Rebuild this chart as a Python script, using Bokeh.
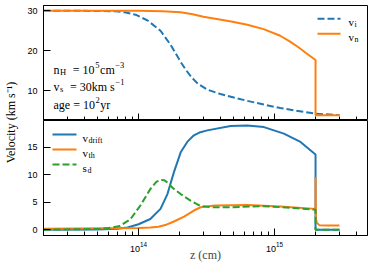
import math
from bokeh.plotting import figure
from bokeh.models import Range1d, FixedTicker, Label, Arrow, CustomJSTickFormatter
from bokeh.layouts import row, column
from bokeh.embed import file_html
from bokeh.resources import INLINE

# ---------------- data ----------------
# top panel
vi_z = [2.0e13, 5.2e13, 6.8e13, 7.9e13, 9.5e13, 1.16e14, 1.45e14, 1.72e14, 2.04e14,
        2.22e14, 2.45e14, 2.72e14, 3.2e14, 4.0e14, 6.3e14, 1.1e15, 2.0e15, 3.0e15]
vi = [30.0, 29.95, 29.85, 29.6, 29.0, 27.6, 25.0, 21.5, 17.2,
      15.3, 13.4, 11.8, 10.3, 9.2, 7.5, 5.7, 4.3, 3.95]

vn_z = [2.0e13, 1.0e14, 1.5e14, 2.04e14, 2.5e14, 3.0e14, 4.8e14, 6.3e14, 8.3e14,
        1.1e15, 1.3e15, 1.48e15, 1.74e15, 2.0e15, 2.0e15, 3.0e15]
vn = [30.0, 29.97, 29.85, 29.6, 29.1, 28.5, 27.3, 26.5, 25.4,
      23.75, 22.3, 21.0, 19.2, 17.7, 3.9, 3.9]

# bottom panel
vdrift_z = [2.0e13, 5.0e13, 7.0e13, 8.3e13, 1.0e14, 1.22e14, 1.45e14, 1.63e14, 1.82e14,
            2.04e14, 2.28e14, 2.55e14, 2.8e14, 3.2e14, 4.75e14, 6.3e14, 8.35e14, 1.17e15,
            1.55e15, 2.0e15, 2.0e15, 3.0e15]
vdrift = [0.02, 0.05, 0.2, 0.4, 1.0, 1.95, 3.8, 6.5, 10.5,
          14.1, 16.0, 17.2, 17.7, 18.1, 18.9, 19.0, 18.7, 17.5,
          16.0, 13.7, 0.0, 0.0]

vth_z = [2.0e13, 1.0e14, 1.22e14, 1.4e14, 1.57e14, 1.82e14, 2.16e14, 2.55e14, 2.86e14,
         3.62e14, 6.3e14, 1.1e15, 2.0e15, 2.0e15, 2.01e15, 2.04e15, 2.14e15, 2.4e15, 3.0e15]
vth = [0.2, 0.3, 0.4, 0.55, 0.85, 1.5, 2.4, 3.5, 4.1,
       4.4, 4.5, 4.25, 3.8, 9.6, 2.2, 1.3, 0.8, 0.75, 0.75]

sd_z = [2.0e13, 5.0e13, 6.0e13, 7.3e13, 8.7e13, 1.03e14, 1.22e14, 1.35e14, 1.45e14,
        1.55e14, 1.63e14, 1.8e14, 2.04e14, 2.41e14, 2.86e14, 3.4e14, 4.75e14, 8.35e14,
        1.5e15, 2.0e15, 2.0e15, 3.0e15]
sd = [0.0, 0.15, 0.3, 0.7, 1.9, 4.4, 7.4, 8.7, 9.1,
      9.0, 8.6, 7.5, 6.5, 5.3, 4.3, 4.1, 4.1, 4.3,
      3.9, 3.65, 0.0, 0.0]

x_major = [1e14, 1e15]
x_minor = [m * 10.0 ** e for e in (13, 14, 15) for m in range(2, 10)]
top_yticks = [10, 20, 30]
bot_yticks = [0, 5, 10, 15]

BLUE, ORANGE, GREEN = "#1f77b4", "#ff7f0e", "#2ca02c"
SERIF = "Liberation Serif"
SANS = "Liberation Sans"

# ---------------- layout constants (page px; page has no margin) ----------------
LABW = 20
FL, FR = 43, 367
T_TOP, T_BOT = 5, 120
B_TOP, B_BOT = 120, 235


def style(p, yticks, show_xlabels):
    p.xgrid.visible = False
    p.ygrid.visible = False
    p.outline_line_color = "black"
    p.outline_line_width = 1
    p.xaxis.ticker = FixedTicker(ticks=x_major, minor_ticks=x_minor)
    p.yaxis.ticker = FixedTicker(ticks=yticks)
    for ax in list(p.xaxis) + list(p.yaxis):
        ax.major_tick_in = 7
        ax.major_tick_out = 0
        ax.minor_tick_in = 4
        ax.minor_tick_out = 0
        ax.axis_line_color = "black"
        ax.major_tick_line_color = "black"
        ax.minor_tick_line_color = "black"
        ax.major_label_text_font = SANS
        ax.major_label_text_font_size = "9px"
        ax.major_label_text_color = "black"
    for ax in p.yaxis:
        ax.major_label_standoff = 6
    if not show_xlabels:
        for ax in p.xaxis:
            ax.formatter = CustomJSTickFormatter(code="return ''")
            ax.major_label_standoff = 0
    else:
        for ax in p.xaxis:
            ax.major_label_standoff = 6


EMW = {"n": .5, "H": .722, "=": .564, " ": .25, "c": .444, "m": .778, "\u2212": .564,
       "v": .5, "s": .389, "k": .5, "a": .444, "g": .5, "e": .444, "y": .5, "r": .333,
       "d": .5, "i": .278, "f": .333, "t": .278, "h": .5}


def tw(s, size):
    return sum(EMW.get(ch, .5) for ch in s) * size


def rich(p, fbot, X, Yb, pieces, size, small):
    """pieces: (text, kind) kind 0 normal, -1 subscript, 1 superscript."""
    x = X
    for txt, kind in pieces:
        fs = size if kind == 0 else small
        lead = len(txt) - len(txt.lstrip(" "))
        x += lead * 0.25 * fs
        body = txt.strip(" ")
        yb = Yb + (2.5 if kind == -1 else (-4.5 if kind == 1 else 0))
        p.add_layout(Label(x=x - FL, y=fbot - yb, x_units="screen", y_units="screen",
                           text=body, text_font=SERIF, text_font_size=f"{fs}px",
                           text_color="black", text_align="left",
                           text_baseline="alphabetic"))
        x += tw(body, fs) + 0.6


def sample(p, fbot, x0, x1, Y, color, dash):
    p.add_layout(Arrow(end=None, x_start=x0 - FL, y_start=fbot - Y, x_end=x1 - FL,
                       y_end=fbot - Y, start_units="screen", end_units="screen",
                       line_color=color, line_width=2, line_dash=dash))


common = dict(x_axis_type="log", frame_width=FR - FL, min_border_left=FL - LABW,
              min_border_right=1, output_backend="svg", toolbar_location=None)

# ---------------- top panel ----------------
p1 = figure(x_range=Range1d(2e13, 4.82e15), y_range=Range1d(2.6, 31.3),
            frame_height=T_BOT - T_TOP, min_border_top=T_TOP, min_border_bottom=0, **common)
style(p1, top_yticks, False)
p1.line(vi_z, vi, line_color=BLUE, line_width=2, line_dash="7 3")
p1.line(vn_z, vn, line_color=ORANGE, line_width=2)

sample(p1, T_BOT, 317, 340, 18.3, BLUE, "7 3")
sample(p1, T_BOT, 317, 340, 33.3, ORANGE, "solid")
rich(p1, T_BOT, 348, 21.5, [("v", 0), ("i", -1)], 11, 8)
rich(p1, T_BOT, 348, 36.5, [("v", 0), ("n", -1)], 11, 8)

rich(p1, T_BOT, 53, 69, [("n", 0), ("H", -1), ("  = 10", 0), ("5", 1), ("cm", 0),
                          ("\u22123", 1)], 12, 8.5)
rich(p1, T_BOT, 53, 86, [("v", 0), ("s", -1), ("  = 30km s", 0), ("\u22121", 1)], 12, 8.5)
rich(p1, T_BOT, 53, 104, [("age = 10", 0), ("2", 1), ("yr", 0)], 12, 8.5)

# ---------------- bottom panel ----------------
p2 = figure(x_range=Range1d(2e13, 4.82e15), y_range=Range1d(-1.05, 19.9),
            frame_height=B_BOT - B_TOP, min_border_top=0, min_border_bottom=34, **common)
style(p2, bot_yticks, True)
p2.xaxis.axis_label = "z (cm)"
p2.xaxis.axis_label_text_font = SERIF
p2.xaxis.axis_label_text_font_size = "12px"
p2.xaxis.axis_label_text_font_style = "normal"
p2.xaxis.axis_label_standoff = -7
p2.line(vdrift_z, vdrift, line_color=BLUE, line_width=2)
p2.line(vth_z, vth, line_color=ORANGE, line_width=2)
p2.line(sd_z, sd, line_color=GREEN, line_width=2, line_dash="7 3")

sample(p2, B_BOT, 52, 76, 134, BLUE, "solid")
sample(p2, B_BOT, 52, 76, 149, ORANGE, "solid")
sample(p2, B_BOT, 52, 76, 164, GREEN, "7 3")
rich(p2, B_BOT, 82, 137, [("v", 0), ("drift", -1)], 11, 8)
rich(p2, B_BOT, 82, 152, [("v", 0), ("th", -1)], 11, 8)
rich(p2, B_BOT, 82, 167, [("s", 0), ("d", -1)], 11, 8)

# ---------------- shared y label ----------------
TOTAL_H = 269
lab = figure(width=LABW, height=TOTAL_H, x_range=Range1d(0, 1), y_range=Range1d(0, 1),
             x_axis_location=None, y_axis_location=None, min_border=0,
             output_backend="svg", toolbar_location=None)
lab.xgrid.visible = False
lab.ygrid.visible = False
lab.outline_line_color = None
lab.add_layout(Label(x=0.5, y=(TOTAL_H - 122) / TOTAL_H, text="Velocity (km s\u207b\u00b9)",
                     angle=math.pi / 2, text_align="center", text_baseline="middle",
                     text_font=SERIF, text_font_size="12px", text_color="black"))

layout = row(lab, column(p1, p2, spacing=0), spacing=0)
open("out.html", "w").write(file_html(layout, INLINE))
